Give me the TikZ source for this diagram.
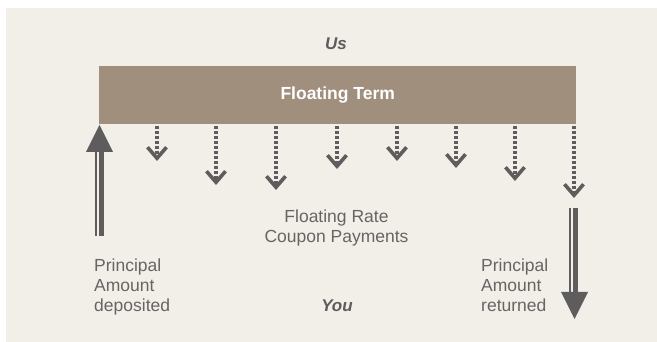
\documentclass[tikz,border=0pt]{standalone}
\usepackage{fontspec}
\setmainfont{Liberation Sans}
\usetikzlibrary{arrows.meta}
\definecolor{bgc}{HTML}{F2EFE9}
\definecolor{barc}{HTML}{A08F7D}
\definecolor{arrc}{HTML}{5E5C5C}
\definecolor{txtc}{HTML}{676564}
\tikzset{
  lbl/.style={text=txtc, font=\fontsize{17.5}{20}\selectfont, inner sep=0pt},
  ttl/.style={text=arrc, font=\fontsize{17}{20}\selectfont\bfseries\itshape, inner sep=0pt},
  coupon/.style={draw=arrc, line width=3.4pt, dash pattern=on 3pt off 2pt,
    -{Straight Barb[length=11pt,width=19pt,line width=3.6pt]}},
}
\begin{document}
\begin{tikzpicture}[x=1pt,y=-1pt]
\useasboundingbox (0,0) rectangle (657,342);
\fill[bgc] (6,8) rectangle (657,342);
% bar
\node[fill=barc, minimum width=477pt, minimum height=58pt, inner sep=0pt, anchor=north west,
      text=white, font=\fontsize{17.5}{20}\selectfont\bfseries] (bar) at (99,66) {Floating Term};
\node[ttl] (us) at (336,44) {Us};
\node[ttl] (you) at (337,306) {You};
% coupon arrows
\foreach \i/\x/\y in {1/157/161,2/216/185,3/276/190,4/337/169,5/397/161,6/456/168,7/515/181,8/574/198}{
  \coordinate (s\i) at (\x,126);
  \coordinate (e\i) at (\x,\y);
  \draw[coupon] (s\i) -- (e\i);
}
\node[lbl, align=center, anchor=north] (rate) at (336.5,210) {Floating Rate\\Coupon Payments};
% principal deposited
\fill[arrc] (99,236) rectangle (104,150);
\fill[arrc] (95,236) rectangle (97,150);
\fill[arrc] (86,152) -- (99.5,125) -- (113,152) -- cycle;
\node[lbl, align=left, anchor=north west] (dep) at (94,259) {Principal\\Amount\\deposited};
% principal returned
\fill[arrc] (573,208) rectangle (578,294);
\fill[arrc] (569.2,208) rectangle (571,294);
\fill[arrc] (561,292) -- (574.5,319) -- (588,292) -- cycle;
\node[lbl, align=left, anchor=north west] (ret) at (481,259) {Principal\\Amount\\returned};
\end{tikzpicture}
\end{document}
